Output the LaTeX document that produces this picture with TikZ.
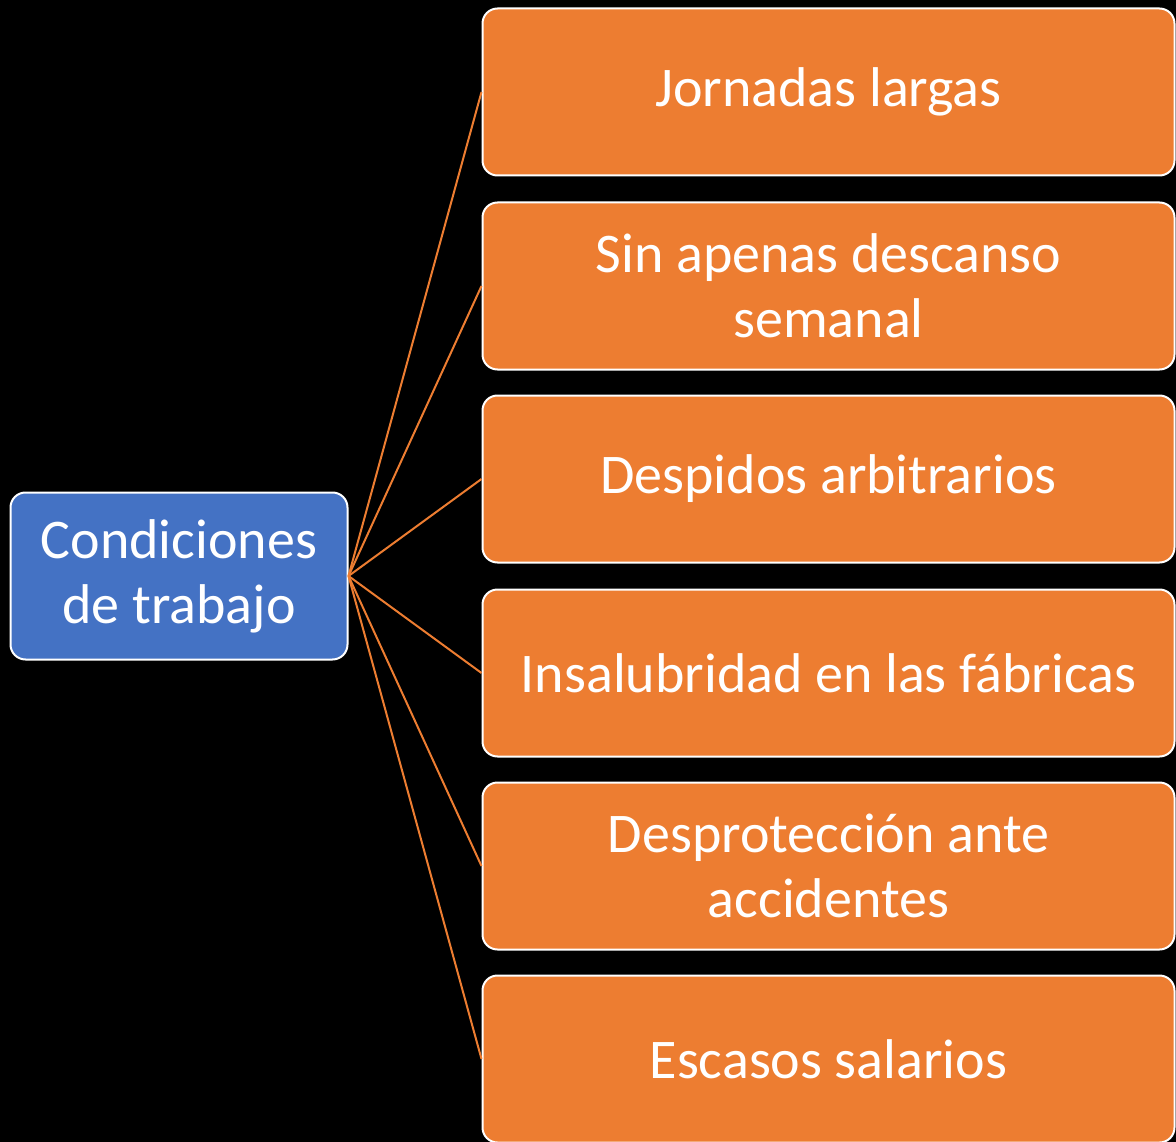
\documentclass[tikz,border=0pt]{standalone}
\usepackage{fontspec}
\setmainfont{Carlito}
\definecolor{boxorange}{HTML}{ED7D31}
\definecolor{boxblue}{HTML}{4472C4}
\begin{document}
\begin{tikzpicture}[x=1pt,y=-1pt,
  leaf/.style={draw=white,line width=2pt,fill=boxorange,rounded corners=15pt,
    minimum width=692pt,minimum height=167pt,inner sep=0pt,text=white,
    align=center,font=\fontsize{56}{65}\selectfont},
  root/.style={draw=white,line width=2pt,fill=boxblue,rounded corners=15pt,
    minimum width=337pt,minimum height=167pt,inner sep=0pt,text=white,
    align=center,font=\fontsize{56}{65}\selectfont},
  link/.style={draw=boxorange,line width=2pt}]
\fill[black] (0,0) rectangle (1176,1142);
\useasboundingbox (0,0) rectangle (1176,1142);
\node[root] (r) at (179,576) {Condiciones\\de trabajo};
\node[leaf] (a) at (828.5,92) {Jornadas largas};
\node[leaf] (b) at (828.5,286) {Sin apenas descanso\\semanal};
\node[leaf] (c) at (828.5,479) {Despidos arbitrarios};
\node[leaf] (d) at (828.5,673) {Insalubridad en las fábricas};
\node[leaf] (e) at (828.5,866) {Desprotección ante\\accidentes};
\node[leaf] (f) at (828.5,1059) {Escasos salarios};
\foreach \n in {a,b,c,d,e,f}{\draw[link] (r.east) -- (\n.west);}
\end{tikzpicture}
\end{document}
